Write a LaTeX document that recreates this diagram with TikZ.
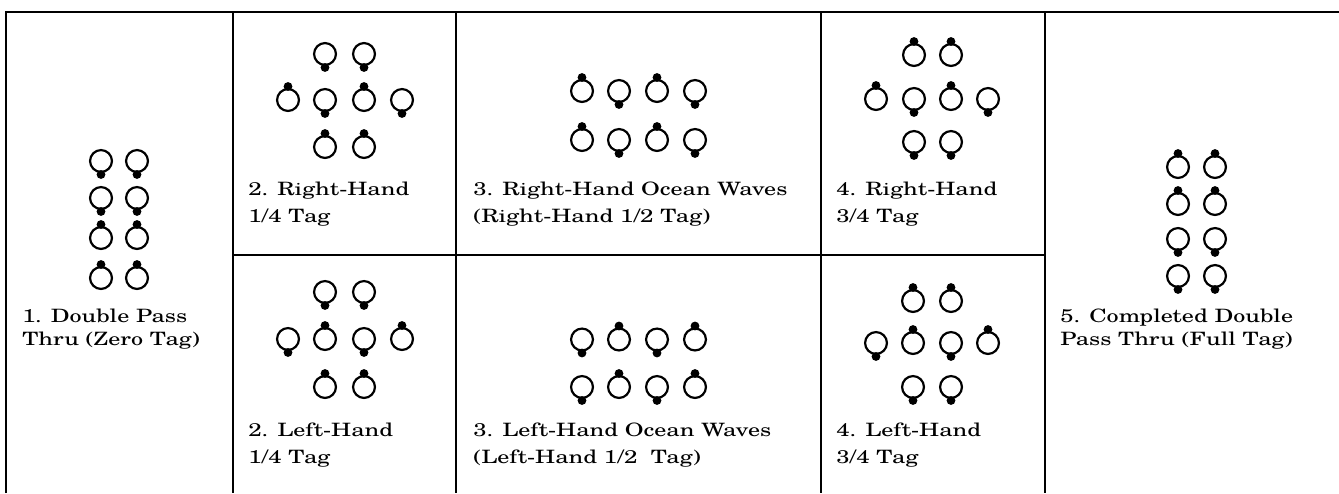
\documentclass[tikz,border=0pt]{standalone}
\usepackage{fontspec}
\setmainfont{TeX Gyre Schola}[FakeStretch=1.31]
\newcommand\dancerU[2]{\node[dancer] (#1) at (#2) {}; \node[hdot, yshift=1.1pt] (#1d) at (#1.north) {};}
\newcommand\dancerD[2]{\node[dancer] (#1) at (#2) {}; \node[hdot, yshift=-1.1pt] (#1d) at (#1.south) {};}
\tikzset{
  dancer/.style={circle, draw, line width=1.65pt, minimum size=16.4pt, inner sep=0pt},
  hdot/.style={circle, fill=black, minimum size=6.6pt, inner sep=0pt},
  grid/.style={line width=1.5pt},
  lbl/.style={anchor=base west, inner sep=0pt, font=\fontsize{13.8}{20}\selectfont}
}
\begin{document}
\begin{tikzpicture}[x=0.75pt,y=-0.75pt]
\useasboundingbox (0,0) rectangle (1339,493);
% table lines
\draw[grid] (6,493) -- (6,12) -- (1339,12);
\draw[grid] (233,12) -- (233,493);
\draw[grid] (456,12) -- (456,493);
\draw[grid] (821,12) -- (821,493);
\draw[grid] (1045,12) -- (1045,493);
\draw[grid] (233,255) -- (1045,255);

% Panel 1
\dancerD{a1}{101,161} \dancerD{a2}{137,161}
\dancerD{a3}{101,198} \dancerD{a4}{137,198}
\dancerU{a5}{101,238} \dancerU{a6}{137,238}
\dancerU{a7}{101,278} \dancerU{a8}{137,278}
\node[lbl] (t1a) at (22,322) {1. Double Pass};
\node[lbl] (t1b) at (22,345) {Thru (Zero Tag)};

% Panel 2 RH
\dancerD{b1}{325,54} \dancerD{b2}{364,54}
\dancerU{b3}{288,100} \dancerD{b4}{325,100} \dancerU{b5}{364,100} \dancerD{b6}{402,100}
\dancerU{b7}{325,147} \dancerU{b8}{364,147}
\node[lbl] (t2a) at (248,195) {2. Right-Hand};
\node[lbl] (t2b) at (248,222.5) {1/4 Tag};

% Panel 2 LH
\dancerD{c1}{325,292} \dancerD{c2}{364,292}
\dancerD{c3}{288,339} \dancerU{c4}{325,339} \dancerD{c5}{364,339} \dancerU{c6}{402,339}
\dancerU{c7}{325,387} \dancerU{c8}{364,387}
\node[lbl] (t3a) at (248,436.5) {2. Left-Hand};
\node[lbl] (t3b) at (248,463) {1/4 Tag};

% Panel 3 RH
\dancerU{d1}{582,91} \dancerD{d2}{619,91} \dancerU{d3}{657,91} \dancerD{d4}{695,91}
\dancerU{d5}{582,140} \dancerD{d6}{619,140} \dancerU{d7}{657,140} \dancerD{d8}{695,140}
\node[lbl] (t4a) at (473,195) {3. Right-Hand Ocean Waves};
\node[lbl] (t4b) at (473,222.5) {(Right-Hand 1/2 Tag)};

% Panel 3 LH
\dancerD{e1}{582,339.5} \dancerU{e2}{619,339.5} \dancerD{e3}{657,339.5} \dancerU{e4}{695,339.5}
\dancerD{e5}{582,387} \dancerU{e6}{619,387} \dancerD{e7}{657,387} \dancerU{e8}{695,387}
\node[lbl] (t5a) at (473,436.5) {3. Left-Hand Ocean Waves};
\node[lbl] (t5b) at (473,463) {(Left-Hand 1/2\ \ Tag)};

% Panel 4 RH
\dancerU{f1}{914,55} \dancerU{f2}{951,55}
\dancerU{f3}{876,99} \dancerD{f4}{914,99} \dancerU{f5}{951,99} \dancerD{f6}{988,99}
\dancerD{f7}{914,142} \dancerD{f8}{951,142}
\node[lbl] (t6a) at (836,195) {4. Right-Hand};
\node[lbl] (t6b) at (836,222.5) {3/4 Tag};

% Panel 4 LH
\dancerU{g1}{913,301} \dancerU{g2}{951,301}
\dancerD{g3}{876,343} \dancerU{g4}{913,343} \dancerD{g5}{951,343} \dancerU{g6}{988,343}
\dancerD{g7}{913,387} \dancerD{g8}{951,387}
\node[lbl] (t7a) at (836,436.5) {4. Left-Hand};
\node[lbl] (t7b) at (836,463) {3/4 Tag};

% Panel 5
\dancerU{h1}{1178,167} \dancerU{h2}{1215,167}
\dancerU{h3}{1178,204} \dancerU{h4}{1215,204}
\dancerD{h5}{1178,239} \dancerD{h6}{1215,239}
\dancerD{h7}{1178,276} \dancerD{h8}{1215,276}
\node[lbl] (t8a) at (1060,322) {5. Completed Double};
\node[lbl] (t8b) at (1060,345) {Pass Thru (Full Tag)};
\end{tikzpicture}
\end{document}
